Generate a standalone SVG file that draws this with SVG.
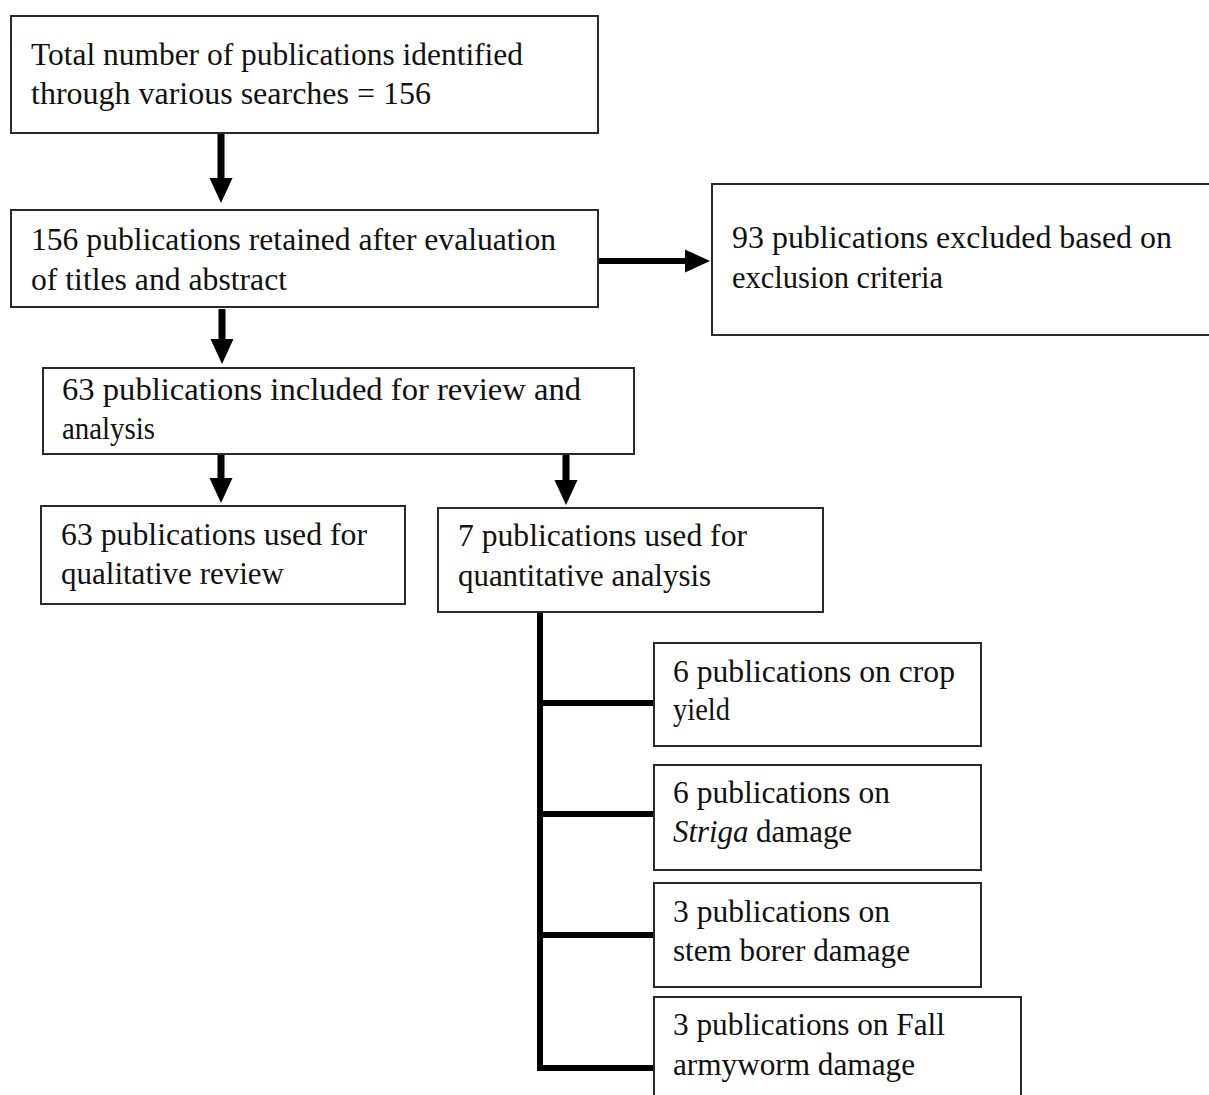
<svg xmlns="http://www.w3.org/2000/svg" width="1209" height="1095" viewBox="0 0 1209 1095">
<style>
.box{fill:#fff;stroke:#2a2a2a;stroke-width:2}
.t{font-family:"Liberation Serif","Times New Roman",serif;font-size:32px;fill:#111}
.c{stroke:#000;stroke-width:6;fill:none}
.v{stroke-width:7}
</style>
<defs>
<marker id="ah" markerUnits="userSpaceOnUse" markerWidth="26" markerHeight="24" refX="13" refY="12" orient="auto">
<path d="M0,0.5 L25,12 L0,23.5 z" fill="#000"/>
</marker>
</defs>
<rect width="1209" height="1095" fill="#fff"/>
<g id="connectors">
<line class="c v" x1="221" y1="134" x2="221" y2="191" marker-end="url(#ah)"/>
<line class="c" x1="599" y1="261" x2="698" y2="261" marker-end="url(#ah)"/>
<line class="c v" x1="222" y1="309" x2="222" y2="352" marker-end="url(#ah)"/>
<line class="c v" x1="221" y1="455" x2="221" y2="491" marker-end="url(#ah)"/>
<line class="c v" x1="566" y1="455" x2="566" y2="493" marker-end="url(#ah)"/>
<path class="c" d="M540,613 V1071 M537,703 H654 M537,814 H654 M537,935 H654 M537,1068 H654"/>
</g>
<g id="n1">
<rect class="box" x="11" y="16" width="587" height="117"/>
<text class="t" x="31" y="65" textLength="492" lengthAdjust="spacingAndGlyphs">Total number of publications identified</text>
<text class="t" x="31" y="104" textLength="400" lengthAdjust="spacingAndGlyphs">through various searches = 156</text>
</g>
<g id="n2">
<rect class="box" x="11" y="210" width="587" height="97"/>
<text class="t" x="31" y="250" textLength="525" lengthAdjust="spacingAndGlyphs">156 publications retained after evaluation</text>
<text class="t" x="31" y="290" textLength="256" lengthAdjust="spacingAndGlyphs">of titles and abstract</text>
</g>
<g id="n3">
<rect class="box" x="712" y="184" width="505" height="151"/>
<text class="t" x="732" y="248" textLength="440" lengthAdjust="spacingAndGlyphs">93 publications excluded based on</text>
<text class="t" x="732" y="288" textLength="211" lengthAdjust="spacingAndGlyphs">exclusion criteria</text>
</g>
<g id="n4">
<rect class="box" x="43" y="368" width="591" height="86"/>
<text class="t" x="62" y="400" textLength="519" lengthAdjust="spacingAndGlyphs">63 publications included for review and</text>
<text class="t" x="62" y="439" textLength="93" lengthAdjust="spacingAndGlyphs">analysis</text>
</g>
<g id="n5">
<rect class="box" x="41" y="506" width="364" height="98"/>
<text class="t" x="61" y="545" textLength="306" lengthAdjust="spacingAndGlyphs">63 publications used for</text>
<text class="t" x="61" y="584" textLength="223" lengthAdjust="spacingAndGlyphs">qualitative review</text>
</g>
<g id="n6">
<rect class="box" x="438" y="508" width="385" height="104"/>
<text class="t" x="458" y="546" textLength="289" lengthAdjust="spacingAndGlyphs">7 publications used for</text>
<text class="t" x="458" y="586" textLength="253" lengthAdjust="spacingAndGlyphs">quantitative analysis</text>
</g>
<g id="n7">
<rect class="box" x="654" y="643" width="327" height="103"/>
<text class="t" x="673" y="682" textLength="282" lengthAdjust="spacingAndGlyphs">6 publications on crop</text>
<text class="t" x="673" y="720" textLength="57" lengthAdjust="spacingAndGlyphs">yield</text>
</g>
<g id="n8">
<rect class="box" x="654" y="765" width="327" height="105"/>
<text class="t" x="673" y="803" textLength="217" lengthAdjust="spacingAndGlyphs">6 publications on</text>
<text class="t" x="673" y="842" textLength="179" lengthAdjust="spacingAndGlyphs"><tspan font-style="italic">Striga</tspan> damage</text>
</g>
<g id="n9">
<rect class="box" x="654" y="883" width="327" height="104"/>
<text class="t" x="673" y="922" textLength="217" lengthAdjust="spacingAndGlyphs">3 publications on</text>
<text class="t" x="673" y="961" textLength="237" lengthAdjust="spacingAndGlyphs">stem borer damage</text>
</g>
<g id="n10">
<rect class="box" x="654" y="997" width="367" height="110"/>
<text class="t" x="673" y="1035" textLength="272" lengthAdjust="spacingAndGlyphs">3 publications on Fall</text>
<text class="t" x="673" y="1075" textLength="242" lengthAdjust="spacingAndGlyphs">armyworm damage</text>
</g>
</svg>
